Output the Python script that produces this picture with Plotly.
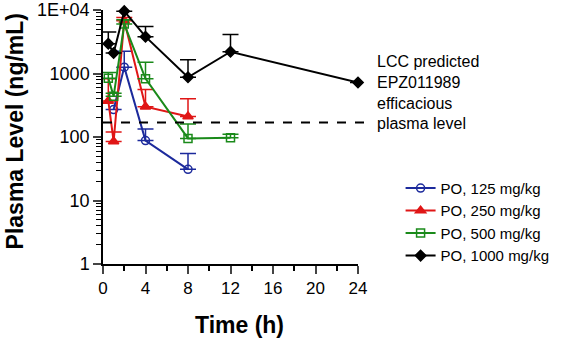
import plotly.graph_objects as go

# ---- data ----
t_125 = [1, 2, 4, 8]
v_125 = [270, 1260, 88, 31]
up_125 = [0, 2240, 134, 55]

t_250 = [0.5, 1, 2, 4, 8]
v_250 = [370, 85, 6800, 300, 210]
up_250 = [830, 120, 7600, 560, 400]

t_500 = [0.5, 1, 2, 4, 8, 12]
v_500 = [840, 440, 6000, 830, 95, 97]
up_500 = [1040, 490, 7000, 1500, 160, 110]

t_1000 = [0.5, 1, 2, 4, 8, 12, 24]
v_1000 = [2950, 2100, 9600, 3800, 870, 2200, 720]
up_1000 = [4500, 0, 0, 5500, 1650, 4100, 0]

efficacious_level = 169

x_ticks = [0, 4, 8, 12, 16, 20, 24]
y_tickvals = [1, 10, 100, 1000, 10000]
y_ticktext = ["1", "10", "100", "1000", "1E+04"]

series = [
    ("PO, 125 mg/kg", t_125, v_125, up_125, "#1c2a9c", "circle-open", 8),
    ("PO, 250 mg/kg", t_250, v_250, up_250, "#e01616", "triangle-up", 9),
    ("PO, 500 mg/kg", t_500, v_500, up_500, "#1a8a1a", "square-open", 8),
    ("PO, 1000 mg/kg", t_1000, v_1000, up_1000, "#000000", "diamond", 8),
]

FONT = "Liberation Sans, Arial"

fig = go.Figure()
for name, t, v, up, col, sym, sz in series:
    plus = [max(u - m, 0) for u, m in zip(up, v)]
    fig.add_trace(go.Scatter(
        x=t, y=v, name=name, mode="lines+markers",
        line=dict(color=col, width=2),
        marker=dict(color=col, symbol=sym, size=sz, line=dict(color=col, width=1.5)),
        error_y=dict(type="data", symmetric=False, array=plus,
                     arrayminus=[0] * len(v), color=col, thickness=1.5, width=8),
        cliponaxis=False,
    ))

fig.add_shape(type="line", xref="paper", yref="y", x0=0, x1=1.057,
              y0=efficacious_level, y1=efficacious_level,
              line=dict(color="black", width=2, dash="dash"))

fig.add_annotation(xref="paper", yref="paper", x=1.065, y=0.676,
                   xanchor="left", yanchor="middle", align="left",
                   text="LCC predicted<br>EPZ011989<br>efficacious<br>plasma level",
                   showarrow=False,
                   font=dict(family=FONT, size=16, color="black"))

# axis titles as annotations for precise placement
fig.add_annotation(xref="paper", yref="paper", x=0.535, y=-0.24,
                   xanchor="center", yanchor="middle", showarrow=False,
                   text="<b>Time (h)</b>", font=dict(family=FONT, size=23, color="black"))
fig.add_annotation(xref="paper", yref="paper", x=-0.347, y=0.52,
                   xanchor="center", yanchor="middle", showarrow=False, textangle=-90,
                   text="<b>Plasma Level (ng/mL)</b>",
                   font=dict(family=FONT, size=23, color="black"))

minor_y = [m * 10 ** k for k in range(4) for m in range(2, 10)]

fig.update_layout(
    width=572, height=339,
    margin=dict(l=103, r=214, t=10, b=75),
    paper_bgcolor="white", plot_bgcolor="white",
    font=dict(family=FONT, size=16, color="black"),
    showlegend=True,
    legend=dict(x=1.167, y=-0.031, xanchor="left", yanchor="bottom",
                font=dict(size=15), bgcolor="rgba(0,0,0,0)",
                tracegroupgap=0, itemwidth=30),
    xaxis=dict(range=[0, 24], tickvals=x_ticks, ticks="outside", ticklen=8,
               tickwidth=1.5, showline=True, linecolor="black", linewidth=1.5,
               showgrid=False, zeroline=False, automargin=False,
               tickfont=dict(size=17),
               minor=dict(tickvals=[2, 6, 10, 14, 18, 22], ticks="outside",
                          ticklen=5, tickwidth=1.5, tickcolor="black", showgrid=False)),
    yaxis=dict(type="log", range=[0, 4], tickvals=y_tickvals, ticktext=y_ticktext,
               ticks="outside", ticklen=8, tickwidth=1.5, showline=True,
               linecolor="black", linewidth=1.5, showgrid=False, zeroline=False,
               automargin=False, tickfont=dict(size=18),
               minor=dict(tickvals=minor_y, ticks="outside", ticklen=5,
                          tickwidth=1, tickcolor="black", showgrid=False)),
)

fig.write_html("out.html", config={"displayModeBar": False},
               post_script="document.body.style.margin='0';document.body.style.padding='0';")
